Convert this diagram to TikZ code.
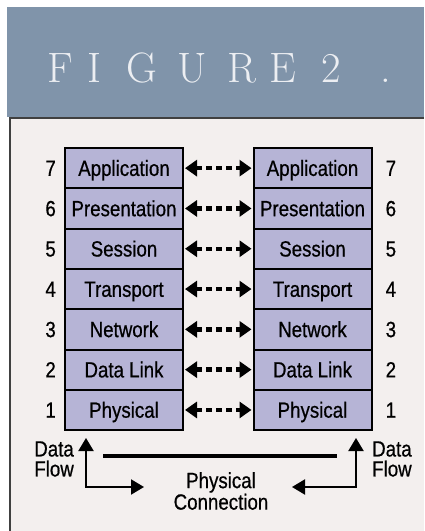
\documentclass[tikz,border=0pt]{standalone}
\usepackage{fontspec}
\usepackage{tikz}
\usetikzlibrary{arrows.meta,positioning}
\newfontfamily\osifont[FakeStretch=0.85,FakeBold=0.6]{Liberation Sans}
\definecolor{bannerblue}{RGB}{128,148,170}
\definecolor{panelgray}{RGB}{243,239,238}
\definecolor{layerfill}{RGB}{182,180,214}
\definecolor{titlewhite}{RGB}{236,238,242}
\tikzset{
  layer/.style={draw, line width=2pt, fill=layerfill, minimum width=118pt,
    minimum height=40.3pt, outer sep=0pt, inner sep=0pt, text height=15.5pt,
    text depth=0pt, font=\osifont\fontsize{22}{24}\selectfont},
  num/.style={inner sep=0pt, text height=15.5pt, text depth=0pt,
    font=\osifont\fontsize{22}{24}\selectfont},
  peer/.style={line width=4.5pt, dash pattern=on 5.5pt off 4.5pt,
    {Triangle[length=12pt,width=16pt]}-{Triangle[length=12pt,width=16pt]},
    shorten <=2pt, shorten >=2pt},
  flow/.style={line width=2pt,
    {Triangle[length=13pt,width=15pt]}-{Triangle[length=13pt,width=15pt]}},
  caption/.style={inner sep=0pt, font=\osifont\fontsize{22}{20}\selectfont}
}

\begin{document}
\begin{tikzpicture}[x=1pt,y=-1pt]
% Page and backgrounds
\fill[white] (0,0) rectangle (424,531);
\useasboundingbox (0,0) rectangle (424,531);
\fill[bannerblue] (7,7) rectangle (424,117);
\fill[panelgray] (10,117) rectangle (424,531);
\draw[black!75, line width=1.3pt] (10,531) -- (10,118) -- (424,118);

% Title letters
\foreach \x/\c [count=\k] in {60/F, 94/I, 142/G, 192/U, 242/R, 283/E, 331/2, 386/.}
    \node[anchor=base, inner sep=0pt, text=titlewhite,
      font=\fontsize{42.5}{44}\selectfont] (t\k) at (\x,82) {\c};

% Layer stacks
\node[layer] (l7) at (124,168.15) {Application};
\node[layer] (r7) at (312.5,168.15) {Application};
\foreach \i/\j/\name in {6/7/Presentation, 5/6/Session, 4/5/Transport,
    3/4/Network, 2/3/Data Link, 1/2/Physical} {
    \node[layer, below=0pt of l\j] (l\i) {\name};
    \node[layer, below=0pt of r\j] (r\i) {\name};
}

% Layer numbers and peer arrows
\foreach \i in {1,...,7} {
    \node[num, left=9pt of l\i] (nl\i) {\i};
    \node[num, right=14pt of r\i] (nr\i) {\i};
    \draw[peer] (l\i.east) -- (r\i.west);
}

% Data flow down and up
\coordinate (ltip) at (86,438);
\coordinate (lhead) at (144,487);
\coordinate (rtip) at (356,438);
\coordinate (rhead) at (292,487);
\draw[flow] (ltip) |- (lhead);
\draw[flow] (rtip) |- (rhead);

% Physical medium
\coordinate (pa) at (103,456);
\coordinate (pb) at (337,456);
\draw[line width=4pt] (pa) -- (pb);

\node[caption, align=right, anchor=east] (dfl) at (74,459) {Data\\Flow};
\node[caption, align=left, anchor=west] (dfr) at (372,459) {Data\\Flow};
\node[caption, align=center] (phys) at (221,491) {Physical\\Connection};
\end{tikzpicture}
\end{document}
